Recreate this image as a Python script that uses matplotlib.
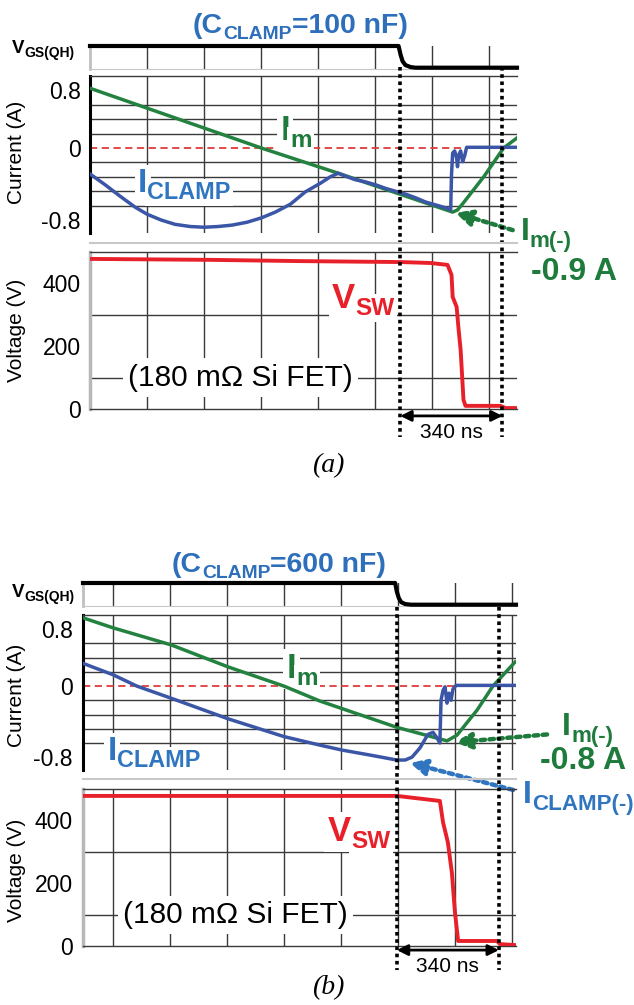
import numpy as np
import matplotlib
matplotlib.use('Agg')
import matplotlib.pyplot as plt
from matplotlib.transforms import blended_transform_factory

plt.rcParams['font.family'] = ['Liberation Sans', 'DejaVu Sans']

# ---------------- data (time in ns, current in A, voltage in V) ----------------
# (a) C_CLAMP = 100 nF
t_gs_a = [0, 1084, 1091, 1098, 1108, 1126, 1143, 1500]
vgs_a = [1, 1, 0.6, 0.3, 0.12, 0.03, 0, 0]

t_im_a = [0, 602, 872, 1274, 1291, 1312, 1383, 1453, 1500]
im_a = [0.83, 0.0, -0.35, -0.89, -0.86, -0.76, -0.40, 0.0, 0.14]

t_icl_a = [0, 53, 106, 158, 201, 250, 299, 352, 401, 450, 500, 552, 602, 651, 704,
           756, 809, 844, 872, 897, 932, 967, 1003, 1038, 1073, 1108, 1143, 1179,
           1214, 1249, 1267, 1270, 1274, 1281, 1288, 1291, 1295, 1302, 1309, 1316,
           1323, 1500]
icl_a = [-0.36, -0.51, -0.67, -0.82, -0.92, -1.00, -1.06, -1.09, -1.10, -1.09, -1.07,
         -1.03, -0.97, -0.89, -0.78, -0.61, -0.49, -0.40, -0.35, -0.39, -0.44, -0.47,
         -0.51, -0.56, -0.60, -0.64, -0.69, -0.75, -0.79, -0.83, -0.86, -0.37, -0.07,
         -0.04, -0.14, -0.26, -0.10, -0.04, -0.19, -0.11, 0.01, 0.01]

t_vsw_a = [0, 422, 739, 1091, 1196, 1256, 1270, 1274, 1288, 1295, 1302, 1312, 1319,
           1442, 1460, 1500]
vsw_a = [478, 475, 471, 468, 465, 459, 427, 357, 325, 252, 188, 29, 10, 10, 3, 3]

t_on_a, t_off_a = 1090, 1449
im_min_a = (1284, -0.90)

# (b) C_CLAMP = 600 nF
t_gs_b = [-105, 990, 996, 1003, 1011, 1025, 1046, 1414]
vgs_b = [1, 1, 0.6, 0.3, 0.12, 0.03, 0, 0]

t_im_b = [-105, 0, 204, 404, 600, 726, 996, 1172, 1207, 1277, 1333, 1411]
im_b = [0.96, 0.82, 0.58, 0.27, 0.0, -0.21, -0.58, -0.77, -0.69, -0.34, 0.0, 0.34]

t_icl_b = [-105, 0, 84, 204, 404, 600, 726, 804, 902, 996, 1025, 1049, 1077, 1105,
           1123, 1137, 1147, 1151, 1158, 1165, 1172, 1179, 1186, 1193, 1204, 1414]
icl_b = [0.32, 0.16, 0.0, -0.17, -0.46, -0.71, -0.83, -0.90, -0.97, -1.04, -1.04,
         -1.00, -0.87, -0.68, -0.65, -0.73, -0.80, -0.20, -0.06, -0.01, -0.24, -0.10,
         -0.20, -0.04, 0.01, 0.01]

t_vsw_b = [-105, 996, 1147, 1158, 1175, 1189, 1200, 1211, 1347, 1358, 1411]
vsw_b = [478, 478, 462, 394, 330, 234, 106, 16, 16, 6, 3]

t_on_b, t_off_b = 996, 1354
im_min_b = (1200, -0.79)
icl_min_b = (1042, -1.08)

cur_ticks = [0.8, 0.0, -1.0]
cur_labels = ['0.8', '0', '-0.8']
cur_grid = [-1.0, -0.8, -0.6, -0.4, -0.2, 0.2, 0.4, 0.6, 0.8]
volt_ticks = [0, 200, 400]
volt_grid = [100, 200, 300, 400]

green_l = '#23823F'
green_t = '#1E7B3C'
blue_l = '#3B56A6'
blue_t = '#2F75C0'
title_c = '#2E6FBB'
red = '#E8202A'
gridc = '#3A3A3A'

W, H = 634, 1005
fig = plt.figure(figsize=(W / 100, H / 100), dpi=100)


def box(l, t, r, b):
  return [l / W, 1 - b / H, (r - l) / W, (b - t) / H]


def fy(px):
  return 1 - px / H


def lab(ax, x, y, base, s, size, color, ratio=0.7, white=False,
        transform=None, zorder=3):
  # bold label with a subscript hung off the base text's lower right corner
  kw = dict(fontsize=size, fontweight='bold', color=color, zorder=zorder)
  wb = dict(boxstyle='square,pad=0.1', fc='white', ec='none') if white else None
  t = ax.text(x, y, base, va='baseline', bbox=wb,
              transform=transform if transform else ax.transData, **kw)
  kw['fontsize'] = size * ratio
  s_t = ax.annotate(s, xy=(1, 0), xycoords=t, va='baseline', ha='left',
                    bbox=wb, annotation_clip=False, **kw)
  return t, s_t


def panel(p):
  l, r = p['left'], p['right']
  xlim = p['xlim']
  vgrid = np.arange(200 if xlim[0] >= 0 else 0, xlim[1], 200)

  # gate drive strip
  ag = fig.add_axes(box(l, p['strip'][0], r, p['strip'][1]))
  ag.set_facecolor('none')
  ag.plot(p['t_gs'], p['vgs'], color='k', lw=3, clip_on=False, zorder=3)
  ag.set_xlim(xlim)
  ag.set_ylim(-0.06, 1.0)
  ag.set_xticks(vgrid)
  ag.set_yticks([])
  ag.grid(axis='x', color=gridc, lw=1)
  ag.tick_params(length=0, labelbottom=False)
  for s in ['top', 'right']:
    ag.spines[s].set_visible(False)
  ag.spines['bottom'].set_color('#C8C8C8')
  ag.spines['left'].set_color('#C0C0C0')
  ag.spines['left'].set_linewidth(2)
  ag.set_axisbelow(True)

  # current
  ac = fig.add_axes(box(l, p['cur'][0], r, p['cur'][1]))
  ac.set_facecolor('none')
  ac.set_xlim(xlim)
  ac.set_ylim(-1.18, 1.0)
  ac.set_xticks(vgrid)
  ac.set_yticks(cur_ticks)
  ac.set_yticklabels(cur_labels)
  ac.set_yticks(cur_grid, minor=True)
  ac.grid(axis='x', color=gridc, lw=1)
  ac.grid(axis='y', which='minor', color=gridc, lw=1)
  ac.tick_params(axis='both', which='both', length=0, labelbottom=False,
                 labelsize=16.5, pad=p['pad'])
  ac.axhline(0, color='#E03A3A', lw=1.3, ls=(0, (4, 2.5)), zorder=1)
  ac.plot(p['t_im'], p['im'], color=green_l, lw=2.5, zorder=3)
  ac.plot(p['t_icl'], p['icl'], color=blue_l, lw=2.5, zorder=4)
  ac.spines['right'].set_visible(False)
  ac.spines['bottom'].set_visible(False)
  ac.spines['top'].set_color(gridc)
  ac.spines['top'].set_linewidth(1)
  ac.spines['left'].set_color('k')
  ac.spines['left'].set_linewidth(2.2)
  ac.set_axisbelow(True)

  # voltage
  av = fig.add_axes(box(l, p['volt'][0], r, p['volt'][1]))
  av.set_facecolor('none')
  av.set_xlim(xlim)
  av.set_ylim(0, 500)
  av.set_xticks(vgrid)
  av.set_yticks(volt_ticks)
  av.set_yticks(volt_grid, minor=True)
  av.grid(axis='x', color=gridc, lw=1)
  av.grid(axis='y', which='minor', color=gridc, lw=1)
  av.tick_params(axis='both', which='both', length=0, labelbottom=False,
                 labelsize=16.5, pad=p['pad'])
  av.plot(p['t_vsw'], p['vsw'], color=red, lw=2.8, zorder=3)
  av.spines['right'].set_visible(False)
  for s in ['top', 'bottom']:
    av.spines[s].set_color(gridc)
    av.spines[s].set_linewidth(1)
  av.spines['left'].set_color('#B8B8B8')
  av.spines['left'].set_linewidth(2.5)
  av.set_axisbelow(True)

  # separator between the two plots
  fig.add_artist(plt.Line2D([l / W, r / W], [fy(p['sep'])] * 2,
                            color='#C8C8C8', lw=1.5))

  # dotted switching markers
  blend = blended_transform_factory(av.transData, fig.transFigure)
  for t in [p['t_on'], p['t_off']]:
    av.plot([t, t], [fy(p['dot'][0]), fy(p['dot'][1])], transform=blend,
            color='k', lw=2.6, ls=(0, (1, 1)), clip_on=False, zorder=10)
  av.annotate('', xy=(p['t_off'], p['arr_v']), xytext=(p['t_on'], p['arr_v']),
              arrowprops=dict(arrowstyle='<|-|>', color='k', lw=2,
                              mutation_scale=16, shrinkA=0, shrinkB=0),
              annotation_clip=False, zorder=11)
  av.text((p['t_on'] + p['t_off']) / 2, p['ns_v'], '340 ns', fontsize=15,
          ha='center', va='center')

  # labels inside the plots
  lab(ac, *p['im_pos'], 'I', 'm', 25, green_t, white=True, zorder=1.6)
  lab(ac, *p['icl_pos'], 'I', 'CLAMP', 24, blue_t, white=True, zorder=1.6)
  lab(av, *p['vsw_pos'], 'V', 'SW', 25, red, white=True, zorder=1.6)
  av.text(*p['fet_pos'], '(180 m\u03a9 Si FET)', fontsize=21.5, va='center',
          bbox=dict(boxstyle='square,pad=0.18', fc='white', ec='none'), zorder=1.6)

  # I_m(-) annotation
  ac.annotate('', xy=p['im_min'], xytext=p['im_tail'],
              arrowprops=dict(arrowstyle='-|>', color=green_t, lw=3.2,
                              ls=(0, (1, 1)), mutation_scale=24,
                              shrinkA=0, shrinkB=0),
              annotation_clip=False, zorder=6)
  lab(ac, *p['imneg_pos'], 'I', 'm(-)', 23, green_t)
  ac.text(*p['imval_pos'], p['imval'], color=green_t, fontsize=23,
          fontweight='bold', va='baseline')

  # figure level labels
  tf = fig.transFigure
  t1, t2 = lab(ac, p['title'][0] / W, fy(p['title'][1]), '(C', 'CLAMP', 20.5,
               title_c, ratio=0.68, transform=tf)
  ac.annotate('=' + p['cap'] + ' nF)', xy=(1, 0), xycoords=(t2, t1), va='bottom',
              fontsize=20.5, fontweight='bold', color=title_c,
              annotation_clip=False)
  lab(ac, 12 / W, fy(p['vgs_lbl']), 'V', 'GS(QH)', 13.5, 'k', ratio=0.74,
      transform=tf)
  fig.text(17 / W, fy(p['cur_lbl']), 'Current (A)', rotation=90, fontsize=15,
           ha='center', va='center')
  fig.text(17 / W, fy(p['volt_lbl']), 'Voltage (V)', rotation=90, fontsize=15,
           ha='center', va='center')
  fig.text(328 / W, fy(p['tag_y']), p['tag'], fontsize=20, family='Liberation Serif',
           style='italic', ha='center', va='center')
  return ac


pa = dict(left=90, right=517, xlim=(0, 1500), strip=(46, 69), cur=(76, 233),
          sep=243, volt=(252, 409), dot=(67, 437), pad=6.5,
          t_gs=t_gs_a, vgs=vgs_a, t_im=t_im_a, im=im_a, t_icl=t_icl_a, icl=icl_a,
          t_vsw=t_vsw_a, vsw=vsw_a, t_on=t_on_a, t_off=t_off_a,
          arr_v=-22, ns_v=-76, im_pos=(668, 0.11), icl_pos=(169, -0.61),
          vsw_pos=(851, 322), fet_pos=(134, 100), im_min=im_min_a,
          im_tail=(1485, -1.14), imneg_pos=(1513, -1.28), imval_pos=(1548, -1.83),
          imval='-0.9 A', title=(193, 33), cap='100', vgs_lbl=53, cur_lbl=152,
          volt_lbl=330, tag='(a)', tag_y=466)

pb = dict(left=83, right=516, xlim=(-105, 1414), strip=(583, 606), cur=(615, 770),
          sep=779, volt=(789, 946), dot=(607, 970), pad=7.2,
          t_gs=t_gs_b, vgs=vgs_b, t_im=t_im_b, im=im_b, t_icl=t_icl_b, icl=icl_b,
          t_vsw=t_vsw_b, vsw=vsw_b, t_on=t_on_b, t_off=t_off_b,
          arr_v=-13, ns_v=-64, im_pos=(609, 0.11), icl_pos=(-18, -1.04),
          vsw_pos=(754, 333), fet_pos=(35, 99), im_min=im_min_b,
          im_tail=(1523, -0.68), imneg_pos=(1576, -0.69), imval_pos=(1498, -1.16),
          imval='-0.8 A', title=(172, 572), cap='600', vgs_lbl=597, cur_lbl=695,
          volt_lbl=870, tag='(b)', tag_y=988)

panel(pa)
acb = panel(pb)

# I_CLAMP(-) annotation, only in (b)
acb.annotate('', xy=icl_min_b, xytext=(1404, -1.46),
             arrowprops=dict(arrowstyle='-|>', color=blue_t, lw=3.2,
                             ls=(0, (1, 1)), mutation_scale=24,
                             shrinkA=0, shrinkB=0),
             annotation_clip=False, zorder=6)
lab(acb, 1439, -1.65, 'I', 'CLAMP(-)', 23, blue_t)

fig.savefig('out.png', dpi=100)
